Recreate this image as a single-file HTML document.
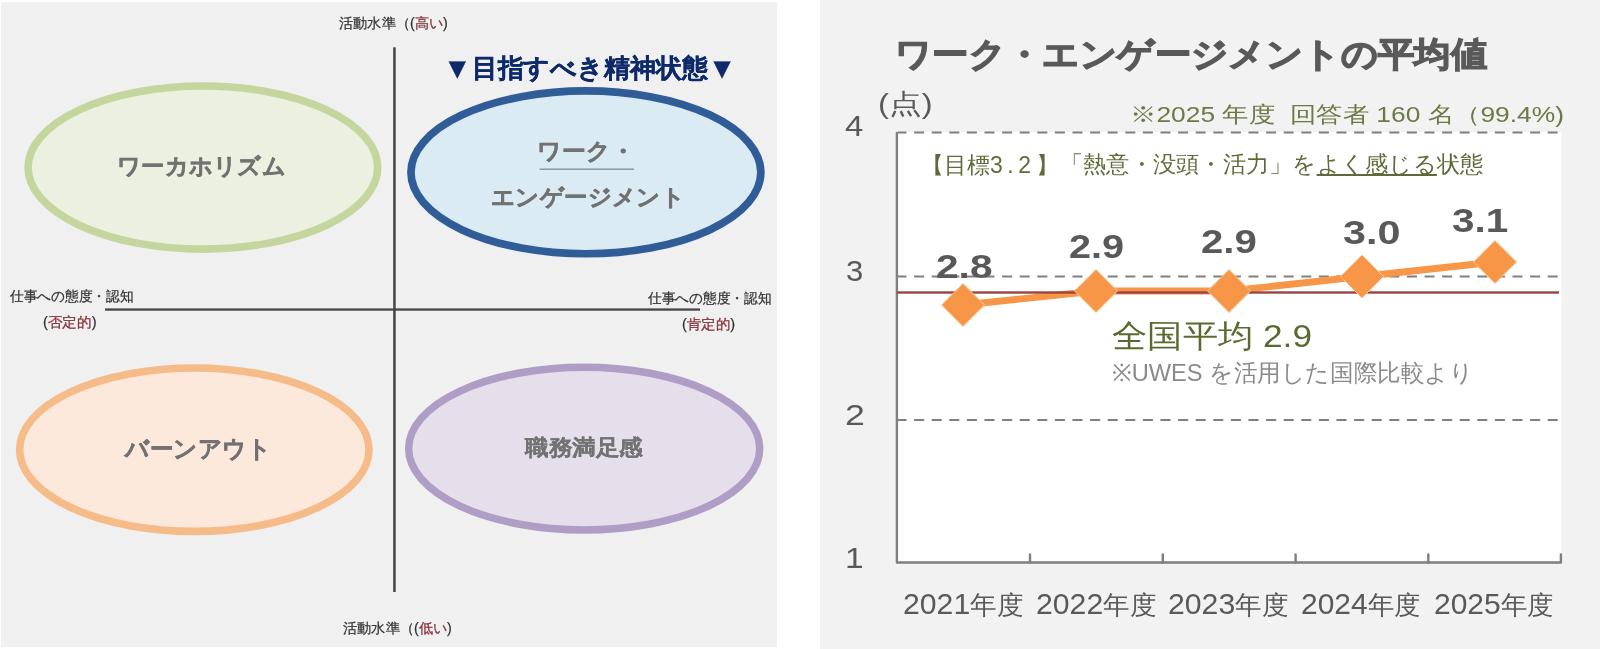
<!DOCTYPE html>
<html><head><meta charset="utf-8">
<style>
html,body{margin:0;padding:0;}
body{width:1600px;height:649px;position:relative;overflow:hidden;background:#fff;font-family:"Liberation Sans",sans-serif;}
.a{position:absolute;white-space:nowrap;line-height:1;}
#lp{position:absolute;left:1px;top:2px;width:776px;height:645px;background:#f0f0f0;}
#rp{position:absolute;left:820px;top:0;width:780px;height:649px;background:#f2f2f2;}
svg{position:absolute;left:0;top:0;}
.sm{font-size:13px;color:#333;}
.red{color:#c8283a;}
.el{font-size:24px;font-weight:bold;color:#707070;}
.ol{color:#5f6a3a;}
.yl{font-size:26px;color:#595959;}
.xl{font-size:28px;color:#595959;}
.dl{font-size:33px;font-weight:bold;color:#595959;}
#wrap{position:absolute;left:0;top:0;width:1600px;height:649px;filter:blur(0.45px);}
</style></head><body><div id="wrap">
<div id="lp"></div>
<div id="rp"></div>
<svg width="1600" height="649" viewBox="0 0 1600 649">
  <!-- left diagram -->
  <ellipse cx="202.9" cy="167.55" rx="174.8" ry="81.55" fill="#ebf0e1" stroke="#c4d69e" stroke-width="7.6"/>
  <ellipse cx="585.9" cy="172.35" rx="174.95" ry="81.4" fill="#dbebf4" stroke="#305d97" stroke-width="7.7"/>
  <ellipse cx="194.3" cy="449.7" rx="174.7" ry="81.7" fill="#fde9dc" stroke="#f5bc89" stroke-width="7.6"/>
  <ellipse cx="584.2" cy="448.6" rx="175.55" ry="81.35" fill="#e5dfec" stroke="#ae9ec6" stroke-width="7.5"/>
  <rect x="393.2" y="47.3" width="2.5" height="544.7" fill="#464646"/>
  <rect x="105" y="308.4" width="595" height="2.3" fill="#464646"/>
  <line x1="539.6" y1="169.3" x2="634" y2="169.3" stroke="#8a9aa4" stroke-width="1.5"/>
  <!-- right chart -->
  <rect x="896" y="132" width="665.5" height="430" fill="#ffffff"/>
  <g stroke="#7f7f7f" stroke-width="2" stroke-dasharray="10 7.6" stroke-dashoffset="1.5">
    <line x1="898" y1="132.5" x2="1559" y2="132.5"/>
    <line x1="898" y1="276.5" x2="1559" y2="276.5"/>
    <line x1="898" y1="420" x2="1559" y2="420"/>
  </g>
  <g fill="none" stroke="#7f7f7f" stroke-width="2.4" stroke-linejoin="round" stroke-linecap="round">
    <path d="M896.9 133 V562.5 H1560.9 V554.5"/>
    <path d="M1030 562.5 V554.5 M1162.8 562.5 V554.5 M1295.6 562.5 V554.5 M1428.3 562.5 V554.5"/>
  </g>
  <polyline points="963,305 1096,291 1229,291 1362,276.5 1495,262" fill="none" stroke="#f79646" stroke-width="6.8" stroke-linejoin="round"/>
  <rect x="897" y="291.3" width="662" height="2.4" fill="#9a4341"/>
  <g fill="#f79646" stroke="#fbc89a" stroke-width="1" stroke-linejoin="round">
    <path d="M963 283.5 L984.5 305 L963 326.5 L941.5 305Z"/>
    <path d="M1096 269.5 L1117.5 291 L1096 312.5 L1074.5 291Z"/>
    <path d="M1229 269.5 L1250.5 291 L1229 312.5 L1207.5 291Z"/>
    <path d="M1362 255 L1383.5 276.5 L1362 298 L1340.5 276.5Z"/>
    <path d="M1495 240.5 L1516.5 262 L1495 283.5 L1473.5 262Z"/>
  </g>
</svg>
<div id="t1" class="a" style="left:338.50px;top:16.00px;font-size:14px;transform:scaleX(1.0140);transform-origin:0 0;color:#333;-webkit-text-stroke:0.25px #333;">活動水準（(<span class="red">高い</span>)</div>
<div id="t2" class="a" style="left:443.10px;top:53.00px;font-size:26px;transform:scaleX(0.9963);transform-origin:0 0;font-weight:bold;color:#0f2a6b;-webkit-text-stroke:0.3px #0f2a6b;"><span style="font-size:29px;position:relative;top:1px">▼</span>目指すべき精神状態<span style="font-size:29px;position:relative;top:1px">▼</span></div>
<div id="t3" class="a" style="left:117.46px;top:154.50px;font-size:23px;transform:scaleX(1.0117);transform-origin:0 0;font-weight:bold;color:#727272;-webkit-text-stroke:0.5px #727272;">ワーカホリズム</div>
<div id="t4" class="a" style="left:536.89px;top:139.90px;font-size:23px;transform:scaleX(1.0366);transform-origin:0 0;font-weight:bold;color:#727272;-webkit-text-stroke:0.5px #727272;">ワーク・</div>
<div id="t5" class="a" style="left:491.48px;top:186.10px;font-size:23px;transform:scaleX(1.0174);transform-origin:0 0;font-weight:bold;color:#727272;-webkit-text-stroke:0.5px #727272;">エンゲージメント</div>
<div id="t6" class="a" style="left:10.00px;top:289.70px;font-size:13.7px;transform:scaleX(0.9800);transform-origin:0 0;color:#333;-webkit-text-stroke:0.25px #333;">仕事への態度・認知</div>
<div id="t7" class="a" style="left:43.41px;top:314.50px;font-size:14px;transform:scaleX(1.0419);transform-origin:0 0;color:#333;-webkit-text-stroke:0.25px #333;">(<span class="red">否定的</span>)</div>
<div id="t8" class="a" style="left:648.00px;top:292.20px;font-size:13.7px;transform:scaleX(0.9808);transform-origin:0 0;color:#333;-webkit-text-stroke:0.25px #333;">仕事への態度・認知</div>
<div id="t9" class="a" style="left:681.51px;top:316.80px;font-size:14px;transform:scaleX(1.0349);transform-origin:0 0;color:#333;-webkit-text-stroke:0.25px #333;">(<span class="red">肯定的</span>)</div>
<div id="t10" class="a" style="left:124.68px;top:437.60px;font-size:23.5px;transform:scaleX(0.9813);transform-origin:0 0;font-weight:bold;color:#727272;-webkit-text-stroke:0.5px #727272;">バーンアウト</div>
<div id="t11" class="a" style="left:525.08px;top:437.00px;font-size:22px;transform:scaleX(1.0728);transform-origin:0 0;font-weight:bold;color:#737373;-webkit-text-stroke:0.1px #737373;">職務満足感</div>
<div id="t12" class="a" style="left:342.50px;top:621.30px;font-size:14px;transform:scaleX(1.0140);transform-origin:0 0;color:#333;-webkit-text-stroke:0.25px #333;">活動水準（(<span class="red">低い</span>)</div>
<div id="r1" class="a" style="left:894.75px;top:36.88px;font-size:34px;transform:scaleX(1.0685);transform-origin:0 0;font-weight:bold;color:#595959;-webkit-text-stroke:1.3px #595959;">ワーク・エンゲージメントの平均値</div>
<div id="r2" class="a" style="left:877.57px;top:90.88px;font-size:27px;transform:scaleX(1.2143);transform-origin:0 0;color:#595959;">(点)</div>
<div id="y4" class="a" style="left:844.97px;top:111.50px;font-size:29px;transform:scaleX(1.1344);transform-origin:0 0;color:#595959;">4</div>
<div id="y3" class="a" style="left:845.93px;top:256.50px;font-size:29px;transform:scaleX(1.0714);transform-origin:0 0;color:#595959;">3</div>
<div id="y2" class="a" style="left:844.80px;top:401.30px;font-size:29px;transform:scaleX(1.2319);transform-origin:0 0;color:#595959;">2</div>
<div id="y1" class="a" style="left:844.69px;top:544.10px;font-size:29px;transform:scaleX(1.1538);transform-origin:0 0;color:#595959;">1</div>
<div id="r3" class="a" style="left:1129.75px;top:103.50px;font-size:22px;transform:scaleX(1.1993);transform-origin:0 0;color:#6b7a45;">※2025 年度&nbsp; 回答者 160 名（99.4%)</div>
<div id="r4" class="a" style="left:921.03px;top:153.90px;font-size:23px;transform:scaleX(0.9982);transform-origin:0 0;color:#5f6a3a;">【目標<span style="letter-spacing:4.6px">3.2</span>】</div>
<div id="r4b" class="a" style="left:1059.65px;top:153.40px;font-size:23px;transform:scaleX(1.0104);transform-origin:0 0;color:#5f6a3a;">「熱意・没頭・活力」を<span style="text-decoration:underline;">よく感じる</span>状態</div>
<div id="d1" class="a" style="left:936.01px;top:250.05px;font-size:33px;transform:scaleX(1.2310);transform-origin:0 0;font-weight:bold;color:#595959;">2.8</div>
<div id="d2" class="a" style="left:1068.80px;top:229.55px;font-size:33px;transform:scaleX(1.2000);transform-origin:0 0;font-weight:bold;color:#595959;">2.9</div>
<div id="d3" class="a" style="left:1201.00px;top:224.80px;font-size:33px;transform:scaleX(1.2155);transform-origin:0 0;font-weight:bold;color:#595959;">2.9</div>
<div id="d4" class="a" style="left:1343.00px;top:216.00px;font-size:33px;transform:scaleX(1.2500);transform-origin:0 0;font-weight:bold;color:#595959;">3.0</div>
<div id="d5" class="a" style="left:1452.01px;top:204.00px;font-size:33px;transform:scaleX(1.2265);transform-origin:0 0;font-weight:bold;color:#595959;">3.1</div>
<div id="r5" class="a" style="left:1111.50px;top:320.00px;font-size:32px;transform:scaleX(1.1028);transform-origin:0 0;color:#5a6a2e;">全国平均 2.9</div>
<div id="r6" class="a" style="left:1111.50px;top:361.00px;font-size:24px;transform:scaleX(0.9834);transform-origin:0 0;color:#8a8a8a;">※UWES を活用した国際比較より</div>
<div id="x1" class="a" style="left:902.98px;top:589.28px;font-size:25.5px;transform:scaleX(1.0239);transform-origin:0 0;color:#595959;"><span style="font-size:29.5px">2021</span>年度</div>
<div id="x2" class="a" style="left:1035.99px;top:589.28px;font-size:25.5px;transform:scaleX(1.0239);transform-origin:0 0;color:#595959;"><span style="font-size:29.5px">2022</span>年度</div>
<div id="x3" class="a" style="left:1167.98px;top:589.28px;font-size:25.5px;transform:scaleX(1.0239);transform-origin:0 0;color:#595959;"><span style="font-size:29.5px">2023</span>年度</div>
<div id="x4" class="a" style="left:1300.98px;top:588.78px;font-size:25.5px;transform:scaleX(1.0152);transform-origin:0 0;color:#595959;"><span style="font-size:29.5px">2024</span>年度</div>
<div id="x5" class="a" style="left:1434.00px;top:588.78px;font-size:25.5px;transform:scaleX(1.0152);transform-origin:0 0;color:#595959;"><span style="font-size:29.5px">2025</span>年度</div>
</div></body></html>
